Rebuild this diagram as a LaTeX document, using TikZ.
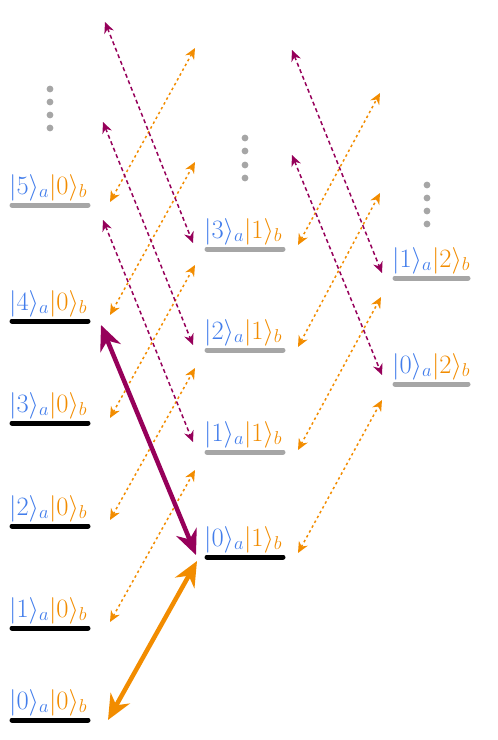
\RequirePackage{fix-cm}
\documentclass[tikz,border=0pt]{standalone}
\usetikzlibrary{arrows.meta}
\definecolor{ketblue}{RGB}{66,125,235}
\definecolor{ketorange}{RGB}{242,140,0}
\definecolor{ketpurple}{RGB}{150,0,90}
\definecolor{levelgray}{RGB}{166,166,166}
\newcommand\kab[2]{$\textcolor{ketblue}{|#1\rangle_a}\textcolor{ketorange}{|#2\rangle_b}$}
\tikzset{
  levelline/.style={line width=5pt, line cap=round},
  ketlabel/.style={inner sep=0pt, anchor=base west, font=\fontsize{26.5}{31}\selectfont},
  dotmark/.style={fill=levelgray, draw=none},
  dasharrow/.style={line width=1.5pt,
    {Stealth[length=11pt,width=10pt]}-{Stealth[length=11pt,width=10pt]}},
  orangedash/.style={dasharrow, ketorange, dash pattern=on 2.5pt off 3pt},
  purpledash/.style={dasharrow, ketpurple, dash pattern=on 4pt off 3pt},
  thickarrow/.style={line width=4.5pt,
    {Stealth[length=25pt,width=22pt]}-{Stealth[length=25pt,width=22pt]}}
}
\begin{document}
\begin{tikzpicture}[x=1pt,y=-1pt]
\useasboundingbox (0,0) rectangle (498,740);
% ---- levels, column 1 (b=0)
\foreach \n/\y/\c in {0/720/black,1/628/black,2/526/black,3/423/black,4/321/black,5/205/levelgray}{
  \coordinate (La\n) at (12,\y);
  \coordinate (Ra\n) at (88,\y);
  \draw[levelline,\c] (La\n) -- (Ra\n);
  \node[ketlabel] (ta\n) at (9,\y-11) {\kab{\n}{0}};
}
% ---- column 2 (b=1)
\foreach \n/\y/\c in {0/557/black,1/452/levelgray,2/350/levelgray,3/249/levelgray}{
  \coordinate (Lb\n) at (207,\y);
  \coordinate (Rb\n) at (283,\y);
  \draw[levelline,\c] (Lb\n) -- (Rb\n);
  \node[ketlabel] (tb\n) at (204,\y-11) {\kab{\n}{1}};
}
% ---- column 3 (b=2)
\foreach \n/\y in {0/384,1/278}{
  \coordinate (Lc\n) at (395,\y);
  \coordinate (Rc\n) at (468,\y);
  \draw[levelline,levelgray] (Lc\n) -- (Rc\n);
  \node[ketlabel] (tc\n) at (392,\y-11) {\kab{\n}{2}};
}
% ---- vertical dots
\foreach \y [count=\i] in {89,102,115,128}{\fill[dotmark] (50,\y) circle (3.4pt) coordinate (da\i);}
\foreach \y [count=\i] in {138,151,165,178}{\fill[dotmark] (245,\y) circle (3.4pt) coordinate (db\i);}
\foreach \y [count=\i] in {185,198,211,224}{\fill[dotmark] (427,\y) circle (3.4pt) coordinate (dc\i);}
% ---- arrow end points
% orange, column 1 -> column 2
\coordinate (o1s) at (110,622); \coordinate (o1e) at (195,470);
\coordinate (o2s) at (110,520); \coordinate (o2e) at (195,368);
\coordinate (o3s) at (110,418); \coordinate (o3e) at (195,265);
\coordinate (o4s) at (110,315); \coordinate (o4e) at (195,162);
\coordinate (o5s) at (110,202); \coordinate (o5e) at (195,48);
% orange, column 2 -> column 3
\coordinate (p0s) at (298,553); \coordinate (p0e) at (382,400);
\coordinate (p1s) at (298,450); \coordinate (p1e) at (381,297);
\coordinate (p2s) at (298,347); \coordinate (p2e) at (380,193);
\coordinate (p3s) at (298,245); \coordinate (p3e) at (380,93);
% purple, column 1 -> column 2
\coordinate (q1s) at (103,220); \coordinate (q1e) at (193,442);
\coordinate (q2s) at (103,122); \coordinate (q2e) at (193,345);
\coordinate (q3s) at (105,22);  \coordinate (q3e) at (193,243);
% purple, column 2 -> column 3
\coordinate (r0s) at (292,155); \coordinate (r0e) at (382,375);
\coordinate (r1s) at (292,50);  \coordinate (r1e) at (382,273);
% thick arrows
\coordinate (TOs) at (108,720); \coordinate (TOe) at (197,561);
\coordinate (TPs) at (101,325); \coordinate (TPe) at (196,555);
% ---- dashed arrows
\foreach \a in {o1,o2,o3,o4,o5,p0,p1,p2,p3}{\draw[orangedash] (\a s) -- (\a e);}
\foreach \a in {q1,q2,q3,r0,r1}{\draw[purpledash] (\a s) -- (\a e);}
% ---- thick arrows
\draw[thickarrow,ketpurple] (TPs) -- (TPe);
\draw[thickarrow,ketorange] (TOs) -- (TOe);
\end{tikzpicture}
\end{document}
